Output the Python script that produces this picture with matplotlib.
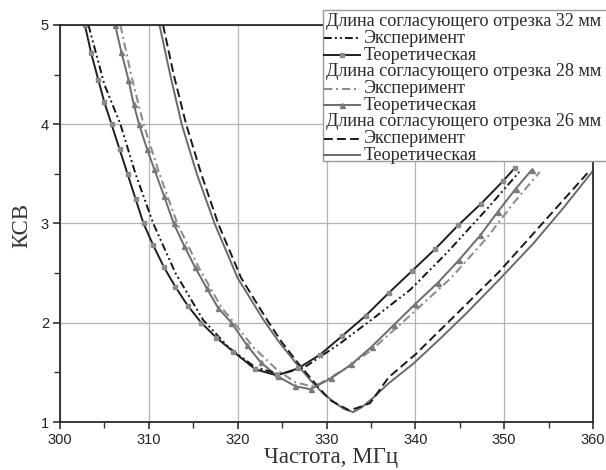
import matplotlib
matplotlib.use("Agg")
import matplotlib.pyplot as plt
from matplotlib.lines import Line2D
from matplotlib.patches import Rectangle
from matplotlib.ticker import MultipleLocator

# ---------------- data ----------------
f32_exp = [303.2, 305.0, 306.8, 308.5, 310.5, 313.0, 316.1, 319.0, 322.0, 324.8,
           327.5, 331.5, 335.5, 339.4, 343.5, 348.0, 351.7]
v32_exp = [5.0, 4.4, 4.0, 3.5, 3.0, 2.5, 2.03, 1.75, 1.55, 1.48,
           1.55, 1.79, 2.06, 2.33, 2.70, 3.14, 3.52]

f32_th = [302.8, 303.5, 304.3, 305.0, 305.8, 306.7, 307.6, 308.5, 309.4, 310.5,
          311.7, 313.0, 314.4, 315.9, 317.6, 319.5, 322.0, 324.4, 326.8, 329.3,
          331.8, 334.4, 337.0, 339.6, 342.2, 344.8, 347.4, 349.9, 351.2]
v32_th = [5.0, 4.72, 4.45, 4.22, 4.0, 3.75, 3.5, 3.25, 3.0, 2.78,
          2.56, 2.36, 2.17, 2.0, 1.85, 1.71, 1.53, 1.47, 1.54, 1.68,
          1.87, 2.07, 2.30, 2.52, 2.74, 2.98, 3.20, 3.43, 3.56]

f28_exp = [306.8, 308.0, 309.4, 311.2, 313.2, 315.6, 318.2, 319.6, 321.8, 324.5,
           326.5, 328.3, 329.3, 332.0, 335.0, 339.5, 344.0, 348.0, 351.0, 354.0]
v28_exp = [5.0, 4.5, 4.0, 3.5, 3.0, 2.56, 2.15, 2.0, 1.75, 1.52,
           1.40, 1.36, 1.39, 1.53, 1.72, 2.08, 2.45, 2.85, 3.20, 3.52]

f28_th = [306.2, 306.9, 307.7, 308.3, 308.9, 309.8, 310.6, 311.7, 312.8, 314.0,
          315.2, 316.5, 317.8, 319.3, 321.0, 322.6, 324.5, 326.5, 328.2, 330.5,
          332.8, 335.1, 337.6, 340.0, 342.5, 344.9, 347.3, 349.3, 351.3, 353.1]
v28_th = [5.0, 4.73, 4.45, 4.2, 4.0, 3.75, 3.55, 3.28, 3.0, 2.77,
          2.56, 2.35, 2.15, 2.0, 1.78, 1.60, 1.46, 1.36, 1.33, 1.44,
          1.58, 1.76, 1.98, 2.19, 2.40, 2.63, 2.88, 3.12, 3.35, 3.54]

f26_exp = [311.6, 312.8, 314.2, 315.9, 317.8, 320.4, 323.3, 325.0, 327.0, 329.0,
           330.4, 332.5, 333.4, 334.9, 337.0, 340.0, 345.0, 349.5, 353.8, 356.5, 359.5]
v26_exp = [5.0, 4.5, 4.0, 3.5, 3.0, 2.45, 2.03, 1.80, 1.57, 1.36,
           1.22, 1.12, 1.14, 1.19, 1.45, 1.68, 2.12, 2.52, 2.95, 3.22, 3.52]

f26_th = [311.2, 312.4, 313.7, 315.4, 317.4, 320.0, 322.9, 324.7, 326.6, 328.2,
          329.6, 331.0, 332.0, 333.0, 334.0, 335.2, 337.0, 339.8, 342.8, 345.8,
          349.5, 353.3, 356.6, 359.9]
v26_th = [5.0, 4.5, 4.0, 3.5, 3.0, 2.45, 2.03, 1.80, 1.59, 1.42,
          1.29, 1.19, 1.13, 1.10, 1.15, 1.24, 1.39, 1.59, 1.84, 2.10,
          2.44, 2.80, 3.15, 3.52]

x_ticks = [300, 310, 320, 330, 340, 350, 360]
y_ticks = [1, 2, 3, 4, 5]
x_label = "Частота, МГц"
y_label = "КСВ"
legend_rows = [
    ("header", "Длина согласующего отрезка 32 мм"),
    ("e32", "Эксперимент"),
    ("t32", "Теоретическая"),
    ("header", "Длина согласующего отрезка 28 мм"),
    ("e28", "Эксперимент"),
    ("t28", "Теоретическая"),
    ("header", "Длина согласующего отрезка 26 мм"),
    ("e26", "Эксперимент"),
    ("t26", "Теоретическая"),
]

# ---------------- styles ----------------
styles = {
    "e32": dict(color="#151515", lw=1.4, ls=(0, (4, 1.6, 1, 1.6, 1, 1.6))),
    "t32": dict(color="#1e1e1e", lw=1.4, ls="-", marker="s", ms=3.2,
                mfc="#8a8a8a", mec="#8a8a8a"),
    "e28": dict(color="#8e8e8e", lw=1.5, ls=(0, (4, 1.8, 1, 1.8))),
    "t28": dict(color="#6c6c6c", lw=1.4, ls="-", marker="^", ms=3.6,
                mfc="#7a7a7a", mec="#7a7a7a"),
    "e26": dict(color="#1a1a1a", lw=1.4, ls=(0, (4.5, 2.2))),
    "t26": dict(color="#6a6a6a", lw=1.4, ls="-"),
}

W, H = 606, 470
fig = plt.figure(figsize=(W / 100, H / 100), dpi=100)
ax = fig.add_axes([60 / W, 1 - 422 / H, (593 - 60) / W, (422 - 25) / H])

ax.grid(True, which="major", color="#b4b4b4", lw=0.9)
ax.set_axisbelow(True)

ax.plot(f26_th, v26_th, **styles["t26"])
ax.plot(f26_exp, v26_exp, **styles["e26"])
ax.plot(f28_exp, v28_exp, **styles["e28"])
ax.plot(f28_th, v28_th, **styles["t28"])
ax.plot(f32_exp, v32_exp, **styles["e32"])
ax.plot(f32_th, v32_th, **styles["t32"])

ax.set_xlim(300, 360)
ax.set_ylim(1, 5)
ax.set_xticks(x_ticks)
ax.set_yticks(y_ticks)
ax.xaxis.set_minor_locator(MultipleLocator(5))
ax.yaxis.set_minor_locator(MultipleLocator(0.5))
ax.tick_params(which="major", direction="out", length=5, width=1.2,
               color="#333333", labelsize=10.5, pad=3)
ax.tick_params(which="minor", direction="out", length=4, width=1.0,
               color="#333333")
ax.tick_params(top=False, right=False)
for lab in ax.get_xticklabels() + ax.get_yticklabels():
    lab.set_family("Liberation Sans")
    lab.set_color("#222222")
for s in ax.spines.values():
    s.set_color("#2a2a2a")
    s.set_linewidth(1.3)

fig.text(331 / W, 1 - 457 / H, x_label, ha="center", va="center",
         family="Liberation Serif", fontsize=16.5, color="#333333")
fig.text(22 / W, 1 - 225 / H, y_label, ha="center", va="center", rotation=90,
         family="Liberation Serif", fontsize=16.5, color="#333333")

# ---------------- legend (drawn in figure pixel coordinates) ----------------
def fx(px):
    return px / W

def fy(py):
    return 1 - py / H

box = Rectangle((fx(323), fy(160.5)), fx(W + 5) - fx(323), fy(10) - fy(160.5),
                transform=fig.transFigure, facecolor="white",
                edgecolor="#9a9a9a", lw=1.0, zorder=5, clip_on=False)
fig.add_artist(box)

row_y0, row_dy = 21.7, 16.7
for i, (key, text) in enumerate(legend_rows):
    yc = row_y0 + i * row_dy
    if key == "header":
        fig.text(fx(326), fy(yc), text, ha="left", va="center",
                 family="Liberation Serif", fontsize=13.1, color="#2a2a2a",
                 zorder=6)
    else:
        st = dict(styles[key])
        mk = st.pop("marker", None)
        ms = st.pop("ms", None)
        mfc = st.pop("mfc", None)
        mec = st.pop("mec", None)
        ln = Line2D([fx(324), fx(360)], [fy(yc), fy(yc)],
                    transform=fig.transFigure, zorder=6, **st)
        fig.add_artist(ln)
        if mk is not None:
            m = Line2D([fx(342)], [fy(yc)], transform=fig.transFigure,
                       marker=mk, ms=ms, mfc=mfc, mec=mec, ls="none", zorder=7)
            fig.add_artist(m)
        fig.text(fx(364), fy(yc), text, ha="left", va="center",
                 family="Liberation Serif", fontsize=13.1, color="#2a2a2a",
                 zorder=6)

fig.savefig("out.png", dpi=100)
